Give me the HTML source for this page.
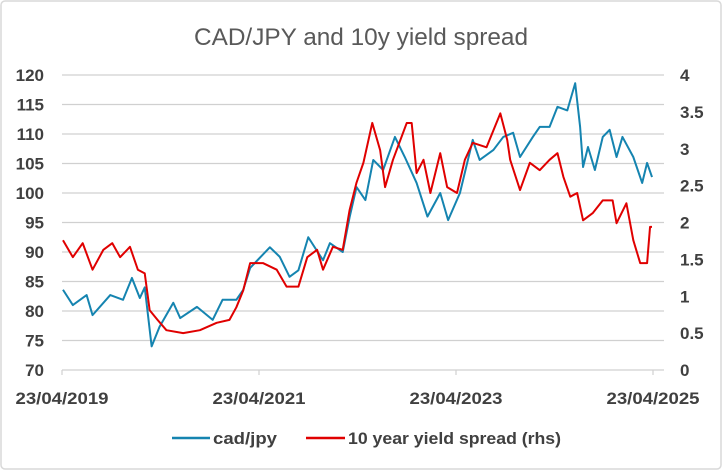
<!DOCTYPE html>
<html><head><meta charset="utf-8"><style>
body{margin:0;background:#fff;}
svg{display:block;font-family:"Liberation Sans",sans-serif;}
</style></head><body>
<svg id="chart" width="722" height="470">
<rect x="1" y="1" width="720" height="468" fill="#fff" stroke="#d9d9d9" stroke-width="1.5" rx="4"/>
<text x="361" y="45" text-anchor="middle" font-size="24" fill="#595959" textLength="334" lengthAdjust="spacingAndGlyphs">CAD/JPY and 10y yield spread</text>
<g id="grid"></g><g id="axes"></g><g id="series"></g>
<g font-size="17" font-weight="bold" fill="#404040">
<line x1="172" y1="438" x2="210" y2="438" stroke="#1584b0" stroke-width="2.5"/>
<text x="213" y="444" textLength="64" lengthAdjust="spacingAndGlyphs">cad/jpy</text>
<line x1="306" y1="438" x2="345" y2="438" stroke="#e00000" stroke-width="2.5"/>
<text x="348" y="444" textLength="213" lengthAdjust="spacingAndGlyphs">10 year yield spread (rhs)</text>
</g>
</svg>
<script>
const leftTicks=[70,75,80,85,90,95,100,105,110,115,120];
const rightTicks=[0,0.5,1,1.5,2,2.5,3,3.5,4];
const rightTickLabels=["0","0.5","1","1.5","2","2.5","3","3.5","4"];
const xTicks=[2019.31,2021.31,2023.31,2025.31];
const xTickLabels=["23/04/2019","23/04/2021","23/04/2023","23/04/2025"];
const cadDates=[2019.32,2019.42,2019.56,2019.62,2019.80,2019.93,2020.02,2020.10,2020.15,2020.22,2020.30,2020.44,2020.51,2020.68,2020.84,2020.94,2021.08,2021.15,2021.22,2021.42,2021.52,2021.62,2021.71,2021.81,2021.96,2022.03,2022.16,2022.23,2022.30,2022.39,2022.47,2022.57,2022.69,2022.79,2022.91,2023.02,2023.15,2023.23,2023.35,2023.48,2023.55,2023.69,2023.79,2023.89,2023.96,2024.09,2024.16,2024.26,2024.34,2024.44,2024.52,2024.57,2024.60,2024.65,2024.72,2024.80,2024.87,2024.94,2025.00,2025.11,2025.20,2025.25,2025.30];
const cadValues=[83.6,81,82.7,79.3,82.7,81.9,85.6,82.2,84,74,77.3,81.4,78.8,80.7,78.5,81.9,81.9,83.6,87.3,90.8,89.2,85.8,86.9,92.5,88.6,91.5,90,95.9,101,98.8,105.6,103.9,109.5,106.1,101.7,96,100,95.4,100,109,105.6,107.3,109.5,110.2,106.1,109.5,111.2,111.2,114.6,114,118.6,111.2,104.4,107.8,103.9,109.5,110.7,106.1,109.5,106.1,101.7,105.1,102.7];
const spreadDates=[2019.32,2019.42,2019.52,2019.62,2019.73,2019.82,2019.90,2020.00,2020.08,2020.15,2020.20,2020.28,2020.37,2020.54,2020.71,2020.88,2021.01,2021.08,2021.15,2021.22,2021.35,2021.49,2021.59,2021.71,2021.80,2021.90,2021.96,2022.06,2022.16,2022.23,2022.30,2022.37,2022.46,2022.54,2022.59,2022.67,2022.81,2022.86,2022.91,2022.98,2023.05,2023.15,2023.22,2023.32,2023.40,2023.48,2023.62,2023.76,2023.83,2023.86,2023.96,2024.06,2024.16,2024.26,2024.34,2024.40,2024.47,2024.54,2024.60,2024.70,2024.80,2024.90,2024.94,2025.04,2025.11,2025.18,2025.25,2025.28,2025.30];
const spreadValues=[1.76,1.53,1.72,1.36,1.63,1.72,1.53,1.67,1.36,1.31,0.81,0.68,0.54,0.5,0.54,0.64,0.68,0.85,1.08,1.45,1.45,1.36,1.13,1.13,1.53,1.63,1.36,1.67,1.63,2.17,2.54,2.81,3.35,2.98,2.48,2.85,3.35,3.35,2.67,2.85,2.4,2.94,2.48,2.4,2.85,3.08,3.02,3.48,3.12,2.85,2.44,2.81,2.71,2.85,2.94,2.62,2.35,2.4,2.03,2.13,2.3,2.3,1.99,2.26,1.76,1.45,1.45,1.94,1.94];
const NS="http://www.w3.org/2000/svg";
const X0=62,X1=660,YT=75,YB=370;
const xs=d=>X0+(d-2019.31)*98.5;
const yL=v=>YB-(v-70)/50*(YB-YT);
const yR=v=>YB-v/4*(YB-YT);
function mk(tag,attrs,parent){const e=document.createElementNS(NS,tag);for(const k in attrs)e.setAttribute(k,attrs[k]);parent.appendChild(e);return e;}
const grid=document.getElementById('grid'),axes=document.getElementById('axes'),series=document.getElementById('series');
leftTicks.forEach((t,i)=>{
 if(t>70){const g=mk('line',{x1:X0,x2:664,y1:yL(t),y2:yL(t),stroke:'#d0d0d0','stroke-width':1.2},grid);
 
 }
 const l=mk('text',{x:44,y:yL(t)+6,'text-anchor':'end','font-size':17,'font-weight':'bold',fill:'#404040'},axes);l.textContent=t;
 
 
});
rightTicks.forEach((t,i)=>{
 const l=mk('text',{x:680,y:yR(t)+6,'text-anchor':'start','font-size':17,'font-weight':'bold',fill:'#404040'},axes);l.textContent=rightTickLabels[i];
 
 
});
const ax=mk('line',{x1:X0,x2:664,y1:YB,y2:YB,stroke:'#d0d0d0','stroke-width':1.2},axes);


xTicks.forEach((t,i)=>{
 const tk=mk('line',{x1:xs(t),x2:xs(t),y1:YB,y2:YB+5,stroke:'#d0d0d0','stroke-width':1.2},axes);
 
 
 const l=mk('text',{x:xs(t),y:404,'text-anchor':'middle','font-size':17,'font-weight':'bold',fill:'#404040',textLength:93,lengthAdjust:'spacingAndGlyphs'},axes);l.textContent=xTickLabels[i];
 
 
});
const cp=mk('polyline',{points:cadDates.map((d,i)=>xs(d)+','+yL(cadValues[i])).join(' '),fill:'none',stroke:'#1584b0','stroke-width':2,'stroke-linejoin':'round'},series);


const sp=mk('polyline',{points:spreadDates.map((d,i)=>xs(d)+','+yR(spreadValues[i])).join(' '),fill:'none',stroke:'#e00000','stroke-width':2,'stroke-linejoin':'round'},series);


</script>
</body></html>
